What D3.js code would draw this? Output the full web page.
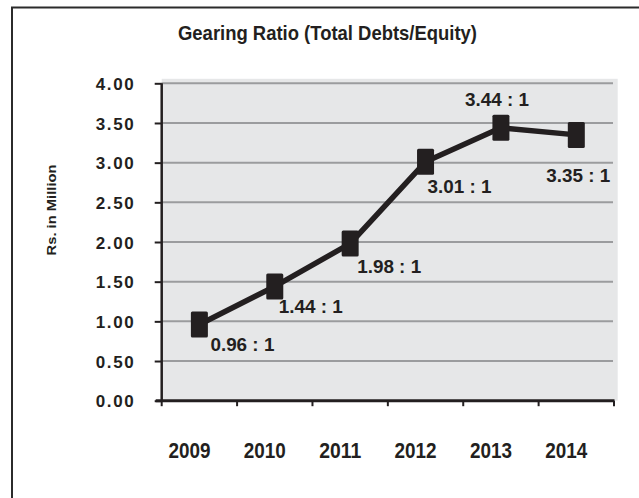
<!DOCTYPE html>
<html>
<head>
<meta charset="utf-8">
<script src="https://cdn.jsdelivr.net/npm/d3@7"></script>
<style>
  html, body { margin: 0; padding: 0; background: #fff; }
  svg { display: block; }
  text { font-family: "Liberation Sans", Arial, sans-serif; font-weight: bold; fill: #231f20; }
</style>
</head>
<body>
<svg id="chart" width="639" height="498"></svg>
<script>
// Gearing ratio by year
const years = ["2009", "2010", "2011", "2012", "2013", "2014"];
const ratios = [0.96, 1.44, 1.98, 3.01, 3.44, 3.35];
const yTicks = [0, 0.5, 1, 1.5, 2, 2.5, 3, 3.5, 4];
const titleText = "Gearing Ratio (Total Debts/Equity)";
const yTitleText = "Rs. in Million";

(function draw() {
  const svg = d3.select("#chart");
  const ink = "#231f20";

  // plot frame
  const pLeft = 161.7, pRight = 614, pTop = 83.3, pBottom = 400.7;

  // outer panel border (left and top edges visible)
  svg.append("rect")
    .attr("x", 12).attr("y", 7.5)
    .attr("width", 700).attr("height", 600)
    .attr("fill", "none").attr("stroke", "#2b2b2b").attr("stroke-width", 2);

  const x = d3.scaleBand().domain(years).range([pLeft, pRight]).padding(0);
  const y = d3.scaleLinear().domain([0, 4]).range([pBottom, pTop]);

  // plot background
  svg.append("rect")
    .attr("x", pLeft).attr("y", pTop - 4.5)
    .attr("width", 617.7 - pLeft).attr("height", pBottom - pTop + 4.5)
    .attr("fill", "#e6e7e8");

  // horizontal gridlines
  svg.append("g").selectAll("line")
    .data(yTicks.filter(d => d > 0))
    .join("line")
    .attr("x1", pLeft).attr("x2", 613)
    .attr("y1", d => y(d)).attr("y2", d => y(d))
    .attr("stroke", "#9b9c9e").attr("stroke-width", 2);

  // y axis
  const yAxis = svg.append("g")
    .attr("transform", `translate(${pLeft},0)`)
    .call(d3.axisLeft(y).tickValues(yTicks).tickSize(7).tickPadding(21).tickFormat(d3.format(".2f")));
  yAxis.select(".domain").attr("stroke", ink).attr("stroke-width", 2.5).attr("d", `M0,${pTop}V${pBottom}`);
  yAxis.selectAll(".tick line").attr("stroke", ink).attr("stroke-width", 2);
  yAxis.selectAll(".tick text")
    .attr("font-family", null).attr("font-size", null)
    .style("font-size", "17px")
    .attr("textLength", 38).attr("lengthAdjust", "spacing")
    .attr("dy", "0.36em").attr("fill", ink);

  // x axis
  const xAxis = svg.append("g")
    .attr("transform", `translate(0,${pBottom})`)
    .call(d3.axisBottom(x).tickSize(0).tickPadding(0));
  xAxis.select(".domain").remove();
  svg.append("line")
    .attr("x1", pLeft - 6).attr("x2", pRight + 0.5)
    .attr("y1", pBottom).attr("y2", pBottom)
    .attr("stroke", ink).attr("stroke-width", 3);
  // category boundary ticks
  svg.append("g").selectAll("line")
    .data(years.map(d => x(d)).concat([x(years[years.length - 1]) + x.bandwidth()]))
    .join("line")
    .attr("x1", d => d).attr("x2", d => d)
    .attr("y1", pBottom).attr("y2", pBottom + 5.5)
    .attr("stroke", ink).attr("stroke-width", 2);
  xAxis.selectAll(".tick text")
    .attr("font-family", null).attr("font-size", null)
    .style("font-size", "22px")
    .attr("textLength", 42).attr("lengthAdjust", "spacingAndGlyphs")
    .attr("x", -10).attr("y", 57).attr("dy", 0)
    .attr("fill", ink);

  // title
  svg.append("text")
    .attr("x", 178).attr("y", 40)
    .style("font-size", "21px")
    .attr("textLength", 299).attr("lengthAdjust", "spacingAndGlyphs")
    .text(titleText);

  // y axis title
  svg.append("text")
    .attr("transform", "translate(56,210) rotate(-90)")
    .attr("text-anchor", "middle")
    .style("font-size", "13.5px")
    .attr("textLength", 91).attr("lengthAdjust", "spacingAndGlyphs")
    .text(yTitleText);

  // series line and markers
  const cx = d => x(d) + x.bandwidth() / 2;
  const pts = years.map((yr, i) => ({ yr, v: ratios[i] }));

  svg.append("path")
    .datum(pts)
    .attr("fill", "none").attr("stroke", ink).attr("stroke-width", 5.5)
    .attr("stroke-linejoin", "round")
    .attr("d", d3.line().x(d => cx(d.yr)).y(d => y(d.v)));

  svg.append("g").selectAll("rect")
    .data(pts)
    .join("rect")
    .attr("x", d => cx(d.yr) - 8.5).attr("y", d => y(d.v) - 13)
    .attr("width", 17).attr("height", 26)
    .attr("rx", 1.5)
    .attr("fill", ink);

  // data labels (offset from each marker)
  const labelOffsets = [[43, 26], [36, 27], [39, 29], [34, 31], [-4, -22], [2, 47]];
  svg.append("g").selectAll("text")
    .data(pts)
    .join("text")
    .attr("x", (d, i) => cx(d.yr) + labelOffsets[i][0] - 32)
    .attr("y", (d, i) => y(d.v) + labelOffsets[i][1])
    .style("font-size", "18.5px")
    .attr("textLength", 64).attr("lengthAdjust", "spacingAndGlyphs")
    .text(d => d3.format(".2f")(d.v) + " : 1");
})();
</script>
</body>
</html>
